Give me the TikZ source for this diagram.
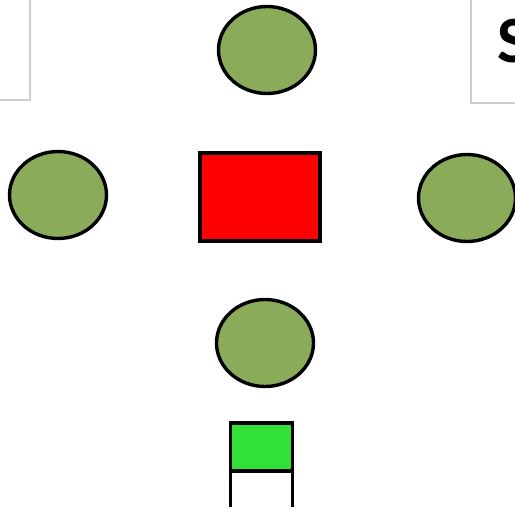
\documentclass[tikz,border=0pt]{standalone}
\usepackage{fontspec}
\setmainfont{Carlito}
\usetikzlibrary{shapes.geometric}
\definecolor{olivegreen}{RGB}{138,172,90}
\definecolor{brightred}{RGB}{255,0,0}
\definecolor{lightgreen}{RGB}{50,224,58}
\definecolor{boxgray}{RGB}{205,205,205}
\tikzset{
  blob/.style={ellipse, draw=black, line width=3.4pt, fill=olivegreen, minimum width=97pt, minimum height=87pt, inner sep=0pt, outer sep=0pt},
  redbox/.style={rectangle, draw=black, line width=3.4pt, fill=brightred, minimum width=120pt, minimum height=88pt, inner sep=0pt, outer sep=0pt},
  greenbox/.style={rectangle, draw=black, line width=3.4pt, fill=lightgreen, minimum width=62pt, minimum height=48pt, inner sep=0pt, outer sep=0pt},
  panel/.style={draw=boxgray, line width=2pt, fill=white},
  leg/.style={draw=black, line width=3.4pt}
}
\begin{document}
\begin{tikzpicture}[x=1pt,y=-1pt]
\useasboundingbox (0,0) rectangle (515,514);
\clip (0,0) rectangle (515,514);
\draw[panel] (-10,-10) rectangle (30,100);
\draw[panel] (471,-10) rectangle (530,103);
\node[anchor=base west, inner sep=0pt, font=\fontsize{66}{70}\selectfont\bfseries] (s) at (497,63) {S};
\node[blob] (top) at (267,50) {};
\node[blob] (left) at (58,195) {};
\node[blob] (right) at (467,198) {};
\node[blob] (bottom) at (265,343) {};
\node[redbox] (red) at (260,197) {};
\node[greenbox] (green) at (261.5,447) {};
\coordinate (legend) at (261.5,507);
\draw[leg] (green.south west) -- (green.south west |- legend);
\draw[leg] (green.south east) -- (green.south east |- legend);
\end{tikzpicture}
\end{document}
